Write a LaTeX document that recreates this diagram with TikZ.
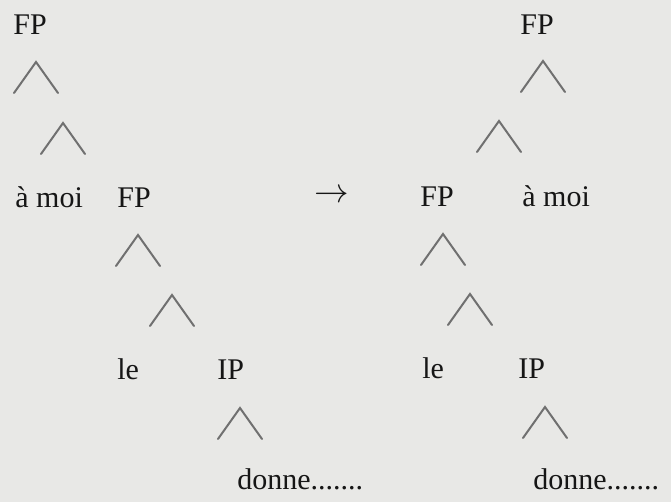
\documentclass[tikz,border=0pt]{standalone}
\usepackage{fontspec}
\setmainfont{Liberation Serif}
\definecolor{paper}{RGB}{232,232,230}
\definecolor{ink}{RGB}{22,22,22}
\definecolor{branchgray}{RGB}{112,112,112}
\begin{document}
\begin{tikzpicture}[x=0.5pt,y=-0.5pt,
  every node/.style={font=\fontsize{15}{17}\selectfont,text=ink,inner sep=0pt},
  lbl/.style={anchor=base west},
  caret/.pic={\draw[branchgray,line width=1pt,line cap=round,line join=miter] (-22,31) -- (0,0) -- (22,31);}]
\fill[paper] (0,0) rectangle (671,502);
\useasboundingbox (0,0) rectangle (671,502);
% left tree
\node[lbl] (fpA) at (13,35) {FP};
\pic (cA1) at (36,62) {caret};
\pic (cA2) at (63,123) {caret};
\node[lbl] (moiA) at (15,208) {à moi};
\node[lbl] (fpB) at (117,208) {FP};
\pic (cA3) at (138,235) {caret};
\pic (cA4) at (172,295) {caret};
\node[lbl] (leA) at (117,380) {le};
\node[lbl] (ipA) at (217,380) {IP};
\pic (cA5) at (240,408) {caret};
\node[lbl] (donneA) at (237,490) {donne.......};
% arrow
\node[font=\fontsize{16}{18}\selectfont] (arr) at (332,196) {$\rightarrow$};
% right tree
\node[lbl] (fpC) at (520,35) {FP};
\pic (cB1) at (543,61) {caret};
\pic (cB2) at (499,121) {caret};
\node[lbl] (fpD) at (420,207) {FP};
\node[lbl] (moiB) at (522,207) {à moi};
\pic (cB3) at (443,234) {caret};
\pic (cB4) at (470,294) {caret};
\node[lbl] (leB) at (422,379) {le};
\node[lbl] (ipB) at (518,379) {IP};
\pic (cB5) at (545,407) {caret};
\node[lbl] (donneB) at (533,490) {donne.......};
\end{tikzpicture}
\end{document}
